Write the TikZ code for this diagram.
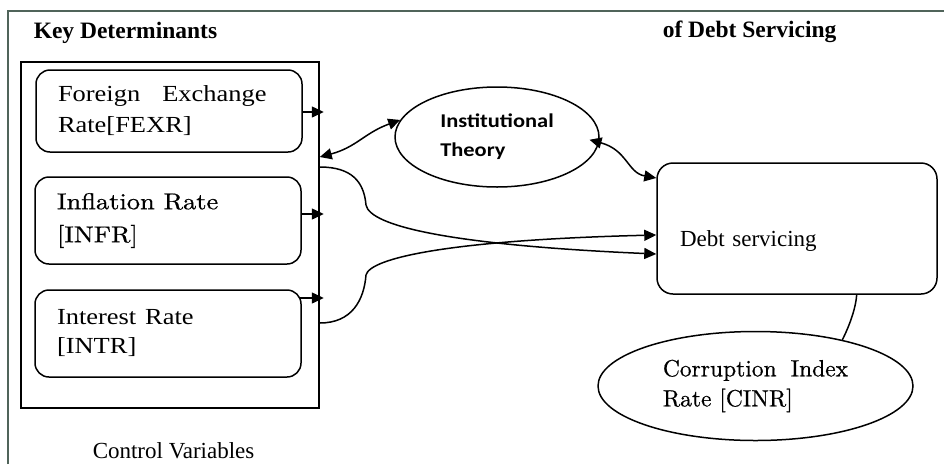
\documentclass[tikz,border=0pt]{standalone}
\usepackage{fontspec}
\newfontfamily\tnr{Liberation Serif}
\newfontfamily\calfont{Carlito}
\newfontfamily\lmd[FakeBold=0.6]{lmroman10-regular.otf}
\usetikzlibrary{arrows.meta,shapes.geometric}
\definecolor{framecol}{RGB}{80,100,90}
\newcommand{\sx}[1]{\scalebox{1.15}[1]{#1}}
\begin{document}
\begin{tikzpicture}[x=1pt,y=-1pt, line width=1.5pt,
  vbox/.style={draw, rounded corners=14pt, minimum width=266pt, minimum height=85pt,
    text width=222pt, inner xsep=22pt, inner ysep=0pt, align=left},
  arr/.style={-{Triangle[length=12pt,width=11pt]}},
  darr/.style={{Triangle[length=12pt,width=11pt]}-{Triangle[length=12pt,width=11pt]}},
  title/.style={anchor=base west, inner sep=0pt, font=\tnr\bfseries\fontsize{23.5}{26}\selectfont}
]
\useasboundingbox (0,0) rectangle (944,464);
\draw[framecol, line width=1.6pt] (8,464) -- (8,11) -- (944,11);

\node[title] (t1) at (33,38) {Key Determinants};
\node[title] (t2) at (662,37) {of Debt Servicing};

\node[draw, minimum width=298pt, minimum height=346pt, inner sep=0pt] (ctrl) at (170,235) {};

\node[vbox, minimum height=82pt, font=\tnr\fontsize{23}{31}\selectfont] (fexr) at (169,111)
  {\sx{Foreign}\hspace{22pt}\sx{Exchange}\\\sx{Rate[FEXR]}};
\node[vbox, minimum height=87pt, font=\lmd\fontsize{23}{33}\selectfont] (infr) at (168,220.5)
  {\sx{Inflation Rate}\\\sx{[INFR]}};
\node[vbox, minimum height=87pt, font=\tnr\fontsize{23}{29}\selectfont] (intr) at (168,333.5)
  {\sx{Interest Rate}\\\sx{[INTR]}};

\node[draw, ellipse, minimum width=204pt, minimum height=100pt, inner sep=0pt, align=left,
  font=\calfont\bfseries\fontsize{19.5}{29}\selectfont] (inst) at (497,137)
  {\sx{Institutional}\\\sx{Theory}};

\node[draw, rounded corners=16pt, minimum width=280pt, minimum height=131pt, text width=234pt,
  inner xsep=23pt, inner ysep=0pt, align=left, text height=40pt, text depth=5pt,
  font=\tnr\fontsize{23}{28}\selectfont] (debt) at (797,228.5) {Debt servicing};

\node[draw, ellipse, minimum width=315pt, minimum height=109pt, inner sep=0pt, align=left,
  font=\lmd\fontsize{23.5}{30}\selectfont] (cinr) at (755.5,386)
  {Corruption\hspace{14pt}Index\\Rate [CINR]};

\node[anchor=base west, inner sep=0pt, font=\tnr\fontsize{23}{28}\selectfont] (cv) at (92,458) {Control Variables};

% arrows from variable boxes to the control frame
\coordinate (s1) at ([yshift=-1pt]fexr.east);
\coordinate (s2) at ([yshift=6.5pt]infr.east);
\coordinate (s3) at ([yshift=35.5pt,xshift=-3pt]intr.east);
\draw[arr, shorten >=-4pt] (s1) -- (s1 -| ctrl.east);
\draw[arr, shorten >=-4pt] (s2) -- (s2 -| ctrl.east);
\draw[arr, shorten >=-4pt] (s3) -- (s3 -| ctrl.east);

% double arrows with institutional theory
\coordinate (c1) at ([yshift=78pt]ctrl.east);
\draw[darr] (c1) to[out=15, in=200, looseness=1.1] (inst.170);
\coordinate (d1) at ([yshift=50.5pt]debt.west);
\draw[darr, shorten <=-10pt] (inst.-3) to[out=-15, in=170, looseness=1.1] (d1);

% crossing curves
\coordinate (ca) at ([yshift=68pt]ctrl.east);
\coordinate (cb) at ([yshift=-88pt]ctrl.east);
\coordinate (da) at ([yshift=-25.5pt]debt.west);
\coordinate (db) at ([yshift=-6.5pt]debt.west);
\draw[arr] (ca) .. controls (352,167) and (364,182) .. (366,205)
  .. controls (370,226) and (450,245) .. (da);
\draw[arr] (cb) .. controls (352,323) and (364,300) .. (366,275)
  .. controls (370,258) and (450,240) .. (db);

% debt servicing to corruption index
\draw (debt.-48) .. controls +(-1,15) and +(6,-12) .. (cinr.28.5);
\end{tikzpicture}
\end{document}
